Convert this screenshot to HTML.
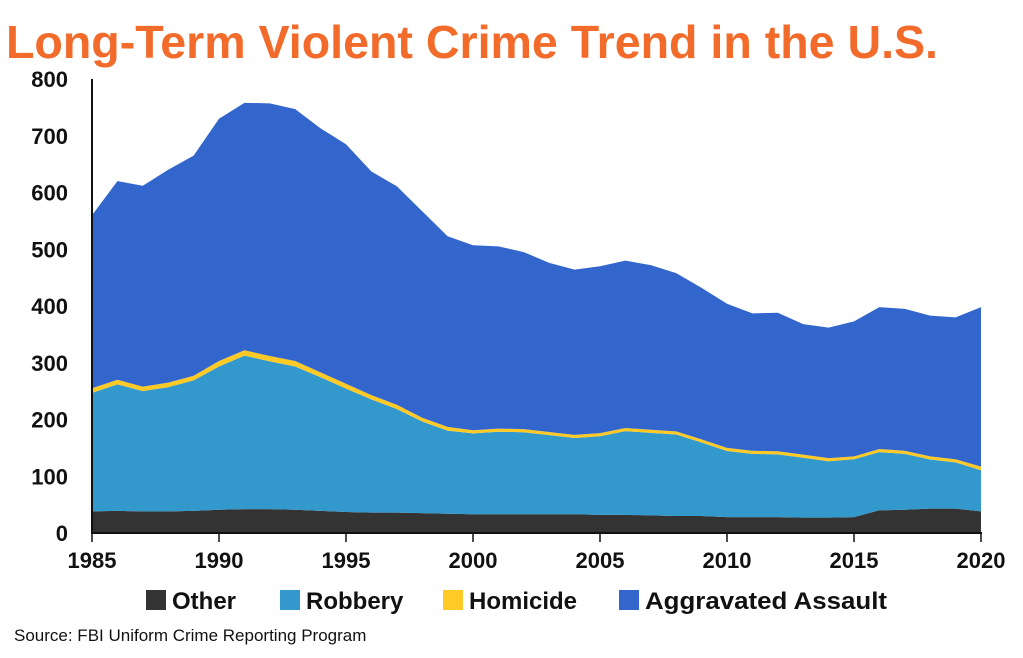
<!DOCTYPE html>
<html><head><meta charset="utf-8"><style>
body{margin:0;background:#fff;width:1023px;height:653px;overflow:hidden}
svg text{font-family:"Liberation Sans",sans-serif}
</style></head><body>
<svg width="1023" height="653" viewBox="0 0 1023 653">
<text x="6" y="58" font-size="46" font-weight="bold" fill="#F26B2A" textLength="932" lengthAdjust="spacingAndGlyphs">Long-Term Violent Crime Trend in the U.S.</text>
<g id="areas"></g>
<g id="axes"></g>
<g font-size="24" font-weight="bold" fill="#111">
 <g><rect x="146" y="590" width="20" height="20" fill="#333"/><text x="172" y="609">Other</text></g>
 <g><rect x="280" y="590" width="20" height="20" fill="#3399CC"/><text x="306" y="609">Robbery</text></g>
 <g><rect x="443" y="590" width="20" height="20" fill="#FFC926"/><text x="469" y="609">Homicide</text></g>
 <g><rect x="619" y="590" width="20" height="20" fill="#3366CC"/><text x="645" y="609" textLength="242" lengthAdjust="spacingAndGlyphs">Aggravated Assault</text></g>
</g>
<text x="14" y="641" font-size="17" fill="#111">Source: FBI Uniform Crime Reporting Program</text>
</svg>
<script>
const years=[];for(let y=1985;y<=2020;y++)years.push(y);
const other=[38,39,38,38,39,41,42,42,41,39,37,36,36,35,34,33,33,33,33,33,32,32,31,30,30,28,28,28,27,27,28,40,41,43,43,38];
const robbery=[209,223,212,219,230,252.5,270.5,260.5,252.5,235.5,217.5,199.5,182.5,161.5,146.5,142.5,145.5,144.5,139.5,134.5,138.5,147.5,145.5,143.5,129.5,116.5,111.5,110.5,105.5,99.5,102,102.5,98.5,86.5,81.5,72.5];
const homicide=[8,8,8,8,8,9.5,9.5,9.5,9.5,8.5,8.5,7.5,7.5,6.5,6.5,5.5,5.5,5.5,5.5,5.5,5.5,5.5,5.5,5.5,5.5,5.5,5.5,5.5,5.5,5.5,5,5.5,5.5,5.5,5.5,6.5];
const assault=[305,350,354,375,388,427,436,445,444,430,422,394,385,364,336,326,321,312,298,291,294,295,290,279,267,254,242,244,230,230,238,250,250,248,250,281];
const yTicks=[0,100,200,300,400,500,600,700,800];
const xTicks=[1985,1990,1995,2000,2005,2010,2015,2020];
const NS='http://www.w3.org/2000/svg';
const X=y=>92+(y-1985)*(889/35);
const Y=v=>533-v*(454/800);
const series=[[other,'#333333','area-other'],[robbery,'#3399CC','area-robbery'],[homicide,'#FFC926','area-homicide'],[assault,'#3366CC','area-aggravated-assault']];
const base=years.map(()=>0);
const g=document.getElementById('areas');
const paths=[];
series.forEach(([vals,col,name])=>{
 const lo=base.slice();
 vals.forEach((v,i)=>base[i]+=v);
 let d='M'+years.map((y,i)=>X(y)+','+Y(base[i])).join('L');
 for(let i=years.length-1;i>=0;i--)d+='L'+X(years[i])+','+Y(lo[i]);
 d+='Z';
 const p=document.createElementNS(NS,'path');
 p.setAttribute('d',d);p.setAttribute('fill',col);
 
 
 paths.push(p);
});
paths.reverse().forEach(p=>g.insertBefore(p,g.firstChild));
const a=document.getElementById('axes');
function add(tag,attrs,txt){const e=document.createElementNS(NS,tag);for(const k in attrs)e.setAttribute(k,attrs[k]);if(txt!==undefined)e.textContent=txt;a.appendChild(e);return e;}
const yl=add('line',{x1:92,y1:79,x2:92,y2:534,stroke:'#111','stroke-width':2});


const xl=add('line',{x1:91,y1:533,x2:982,y2:533,stroke:'#111','stroke-width':2});


yTicks.forEach(v=>{
 const t=add('text',{x:68,y:Y(v)+8,'text-anchor':'end','font-size':22,'font-weight':'bold',fill:'#111'},String(v));
 
 
});
xTicks.forEach(y=>{
 const l=add('line',{x1:X(y),y1:533,x2:X(y),y2:542,stroke:'#111','stroke-width':1.5});
 
 
 const t=add('text',{x:X(y),y:568,'text-anchor':'middle','font-size':22,'font-weight':'bold',fill:'#111'},String(y));
 
 
});
</script>
</body></html>
